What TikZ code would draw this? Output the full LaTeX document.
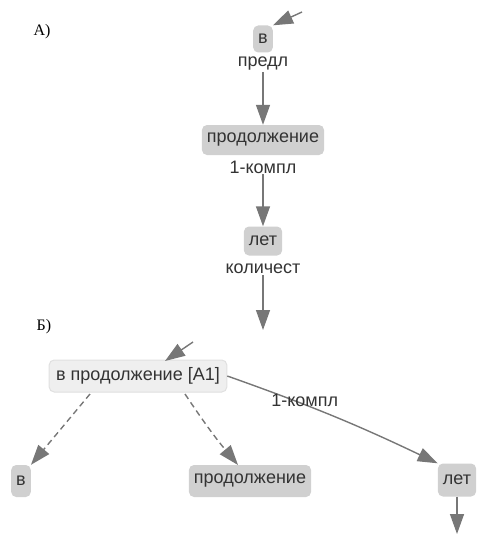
\documentclass[tikz,border=0pt]{standalone}
\usepackage{fontspec}
\setmainfont{Liberation Sans}
\newfontfamily\serifA{Liberation Serif}
\usetikzlibrary{arrows.meta}
\definecolor{edgegrey}{HTML}{777777}
\definecolor{boxgrey}{HTML}{D0D0D0}
\definecolor{lightbox}{HTML}{EFEFEF}
\begin{document}
\begin{tikzpicture}[x=1pt,y=-1pt,
  word/.style={fill=boxgrey, rounded corners=5pt, inner xsep=5pt, inner ysep=0pt, minimum height=29pt, font=\fontsize{18}{20}\selectfont, text=black!80},
  wordlight/.style={word, fill=lightbox, draw=black!12, line width=1pt},
  rel/.style={font=\fontsize{18}{20}\selectfont, text=black!80, inner sep=1pt},
  edge/.style={draw=edgegrey, line width=1.4pt, -{Triangle[length=20pt,width=14pt]}, color=edgegrey},
  dedge/.style={edge, dashed, dash pattern=on 6pt off 4pt},
  panel/.style={font=\serifA\fontsize{16}{18}\selectfont, inner sep=0pt}
]
\useasboundingbox (0,0) rectangle (478,535);
% panel A
\node[panel] (labA) at (42,32) {А)};
\node[word, minimum height=27pt] (v1) at (263,39) {в};
\node[rel] (r1) at (263,64) {предл};
\node[word, minimum height=30pt] (p1) at (263,140) {продолжение};
\node[rel] (r2) at (263,167) {1-компл};
\node[word] (l1) at (263,241) {лет};
\node[rel] (r3) at (263,269) {количест};
\coordinate (inA) at (302,12);
\coordinate (outA) at (263,330);
\draw[edge] (inA) -- (v1.north east);
\draw[edge] (r1.south) -- (p1.north);
\draw[edge] (r2.south) -- (l1.north);
\draw[edge] (r3.south) -- (outA);
% panel B
\node[panel] (labB) at (44,327) {Б)};
\node[wordlight, minimum height=32pt, inner xsep=7pt] (top) at (138,376) {в продолжение [А1]};
\node[word, minimum height=32pt] (v2) at (21,481) {в};
\node[word, minimum height=32pt] (p2) at (250,481) {продолжение};
\node[word, minimum height=33pt] (l2) at (457,480) {лет};
\coordinate (inB) at (193,342);
\coordinate (outB) at (457,534);
\draw[edge] (inB) -- (165,361);
\draw[dedge] (90,394) -- (v2.north east);
\draw[dedge] (185,394) to[bend right=3] (238,465);
\draw[edge] (top.east) to[bend left=3] node[rel, pos=0.2, anchor=south west, xshift=-4pt, yshift=-16pt] {1-компл} (l2.north west);
\draw[edge] (l2.south) -- (outB);
\end{tikzpicture}
\end{document}
